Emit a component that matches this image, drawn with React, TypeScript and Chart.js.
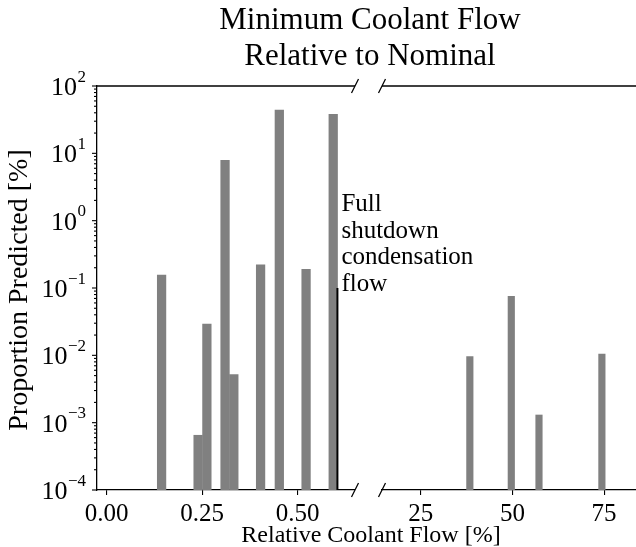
import React, { useEffect, useRef } from 'react';
import { Chart, registerables } from 'chart.js';

Chart.register(...registerables);

// ---------- data ----------
const leftFlow = [0.144, 0.2395, 0.2625, 0.31, 0.333, 0.403, 0.452, 0.522, 0.593];
const leftProportion = [0.155, 0.00065, 0.029, 7.9, 0.0052, 0.22, 44, 0.19, 38];
const rightFlow = [38.4, 49.7, 57.25, 74.4];
const rightProportion = [0.0096, 0.075, 0.0013, 0.0104];
const leftTicks = [0, 0.25, 0.5];
const rightTicks = [25, 50, 75];
const yDecades = [-4, -3, -2, -1, 0, 1, 2];
const shutdownFlow = 0.604;
const shutdownTop = 0.1;
const shutdownLines = ['Full', 'shutdown', 'condensation', 'flow'];
const titleLines = ['Minimum Coolant Flow', 'Relative to Nominal'];
const xLabel = 'Relative Coolant Flow [%]';
const yLabel = 'Proportion Predicted [%]';
const leftRange = [-0.025, 0.65];
const rightRange = [14.45, 83.7];
const yRange = [1e-4, 1e2];

// ---------- style / layout ----------
const W = 636;
const H = 547;
const SERIF = '"Liberation Serif", "Times New Roman", serif';
const BAR = '#808080';
const AREA = { left: 97, split1: 355, split2: 382, top: 86, bottom: 490 };

function slash(ctx: CanvasRenderingContext2D, x: number, y: number) {
  ctx.beginPath();
  ctx.moveTo(x - 3.5, y + 7);
  ctx.lineTo(x + 3.5, y - 7);
  ctx.stroke();
}

const leftDecor = {
  id: 'leftDecor',
  afterDraw(chart: any) {
    const { ctx, chartArea: a, scales } = chart;
    const ys = scales.y;
    ctx.save();
    ctx.strokeStyle = '#000';
    ctx.fillStyle = '#000';
    ctx.lineWidth = 1.3;
    // top spine
    ctx.beginPath();
    ctx.moveTo(a.left - 0.65, a.top);
    ctx.lineTo(a.right, a.top);
    ctx.stroke();
    slash(ctx, a.right, a.top);
    slash(ctx, a.right, a.bottom);

    // y ticks (major + minor)
    ctx.lineWidth = 1.1;
    for (const p of yDecades) {
      const py = ys.getPixelForValue(Math.pow(10, p));
      ctx.beginPath();
      ctx.moveTo(a.left - 5, py);
      ctx.lineTo(a.left, py);
      ctx.stroke();
      if (p < yDecades[yDecades.length - 1]) {
        for (let m = 2; m <= 9; m++) {
          const my = ys.getPixelForValue(m * Math.pow(10, p));
          ctx.beginPath();
          ctx.moveTo(a.left - 3, my);
          ctx.lineTo(a.left, my);
          ctx.stroke();
        }
      }
    }
    // y tick labels 10^p
    const rightEdge = a.left - 11;
    for (const p of yDecades) {
      const py = ys.getPixelForValue(Math.pow(10, p));
      const exp = p < 0 ? '\u2212' + Math.abs(p) : String(p);
      ctx.font = `17px ${SERIF}`;
      ctx.textAlign = 'right';
      ctx.textBaseline = 'alphabetic';
      const ew = ctx.measureText(exp).width;
      ctx.fillText(exp, rightEdge, py - 4.5);
      ctx.font = `26px ${SERIF}`;
      ctx.fillText('10', rightEdge - ew - 0.5, py + 9);
    }

    // annotation text
    ctx.font = `25px ${SERIF}`;
    ctx.textAlign = 'left';
    const lx = scales.x.getPixelForValue(shutdownFlow) + 4;
    shutdownLines.forEach((t, i) => ctx.fillText(t, lx, 211 + i * 26.5));

    // title
    ctx.font = `31px ${SERIF}`;
    ctx.textAlign = 'center';
    ctx.fillText(titleLines[0], 370, 29);
    ctx.fillText(titleLines[1], 370, 65);

    // x label
    ctx.font = `24px ${SERIF}`;
    ctx.fillText(xLabel, 371, 542);

    // y label
    ctx.save();
    ctx.translate(27, 290);
    ctx.rotate(-Math.PI / 2);
    ctx.font = `28px ${SERIF}`;
    ctx.textAlign = 'center';
    ctx.fillText(yLabel, 0, 0);
    ctx.restore();

    ctx.restore();
  },
};

const rightDecor = {
  id: 'rightDecor',
  afterDraw(chart: any) {
    const { ctx, chartArea: a } = chart;
    ctx.save();
    ctx.strokeStyle = '#000';
    ctx.lineWidth = 1.3;
    ctx.beginPath();
    ctx.moveTo(a.left, a.top);
    ctx.lineTo(a.right, a.top);
    ctx.stroke();
    slash(ctx, a.left, a.top);
    slash(ctx, a.left, a.bottom);
    ctx.restore();
  },
};

function xScale(range: number[], ticks: number[], fmt: (v: number) => string) {
  return {
    type: 'linear',
    min: range[0],
    max: range[1],
    offset: false,
    afterBuildTicks: (s: any) => {
      s.ticks = ticks.map((v) => ({ value: v }));
    },
    afterFit: (s: any) => {
      s.height = H - AREA.bottom;
    },
    ticks: {
      callback: (v: any) => fmt(Number(v)),
      font: { family: SERIF, size: 25 },
      color: '#000',
      padding: 4,
      maxRotation: 0,
      autoSkip: false,
    },
    grid: {
      display: true,
      drawOnChartArea: false,
      drawTicks: true,
      tickLength: 5,
      tickWidth: 1.1,
      color: '#000',
      lineWidth: 1.1,
      offset: false,
    },
    border: { display: true, color: '#000', width: 1.3 },
  };
}

export default function App() {
  const leftRef = useRef<HTMLCanvasElement>(null);
  const rightRef = useRef<HTMLCanvasElement>(null);

  useEffect(() => {
    const left = new Chart(leftRef.current as HTMLCanvasElement, {
      type: 'bar',
      data: {
        datasets: [
          {
            type: 'line',
            order: 0,
            data: [
              { x: shutdownFlow, y: yRange[0] },
              { x: shutdownFlow, y: shutdownTop },
            ],
            borderColor: '#000',
            borderWidth: 2,
            pointRadius: 0,
            fill: false,
            clip: false,
          } as any,
          {
            type: 'bar',
            order: 1,
            data: leftFlow.map((x, i) => ({ x, y: leftProportion[i] })),
            backgroundColor: BAR,
            borderWidth: 0,
            barThickness: 8.6,
            grouped: false,
          } as any,
        ],
      },
      options: {
        animation: false,
        responsive: false,
        maintainAspectRatio: false,
        layout: { padding: { left: 0, right: W - AREA.split1, top: AREA.top, bottom: 0 } },
        plugins: { legend: { display: false }, tooltip: { enabled: false }, title: { display: false } },
        scales: {
          x: xScale(leftRange, leftTicks, (v) => v.toFixed(2)) as any,
          y: {
            type: 'logarithmic',
            min: yRange[0],
            max: yRange[1],
            ticks: { display: false },
            grid: { display: false, drawTicks: false },
            border: { display: true, color: '#000', width: 1.3 },
            afterFit: (s: any) => {
              s.width = AREA.left;
            },
          } as any,
        },
      },
      plugins: [leftDecor],
    });

    const right = new Chart(rightRef.current as HTMLCanvasElement, {
      type: 'bar',
      data: {
        datasets: [
          {
            type: 'bar',
            data: rightFlow.map((x, i) => ({ x, y: rightProportion[i] })),
            backgroundColor: BAR,
            borderWidth: 0,
            barThickness: 6.5,
            grouped: false,
          } as any,
        ],
      },
      options: {
        animation: false,
        responsive: false,
        maintainAspectRatio: false,
        layout: { padding: { left: AREA.split2, right: 0, top: AREA.top, bottom: 0 } },
        plugins: { legend: { display: false }, tooltip: { enabled: false }, title: { display: false } },
        scales: {
          x: xScale(rightRange, rightTicks, (v) => String(Math.round(v))) as any,
          y: {
            type: 'logarithmic',
            display: false,
            min: yRange[0],
            max: yRange[1],
          } as any,
        },
      },
      plugins: [rightDecor],
    });

    return () => {
      left.destroy();
      right.destroy();
    };
  }, []);

  return (
    <div style={{ position: 'absolute', left: 0, top: 0, width: W, height: H, background: '#fff' }}>
      <canvas ref={leftRef} width={W} height={H} style={{ position: 'absolute', left: 0, top: 0 }} />
      <canvas ref={rightRef} width={W} height={H} style={{ position: 'absolute', left: 0, top: 0 }} />
    </div>
  );
}
